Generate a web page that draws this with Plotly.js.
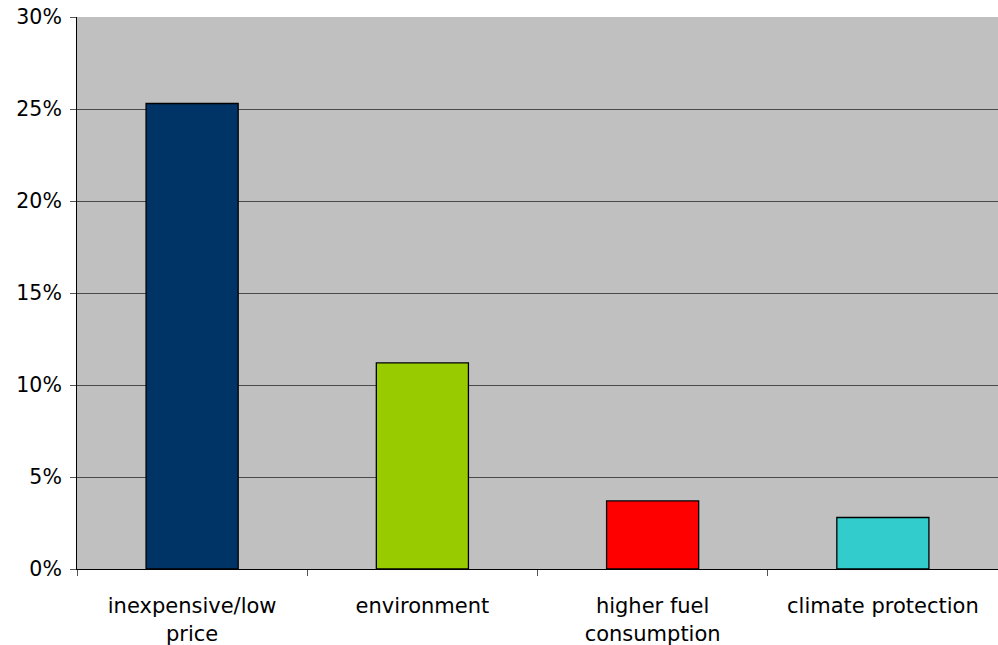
<!DOCTYPE html>
<html>
<head>
<meta charset="utf-8">
<script src="https://cdn.plot.ly/plotly-3.0.1.min.js"></script>
<style>html,body{margin:0;padding:0;background:#fff;}#chart{width:998px;height:645px;}</style>
</head>
<body>
<div id="chart"></div>
<script>
const categories = ["inexpensive/low<br>price", "environment", "higher fuel<br>consumption", "climate protection"];
const values = [25.3, 11.2, 3.7, 2.8];
const barColors = ["#003366", "#99cc00", "#ff0000", "#33cccc"];
const yTickVals = [0, 5, 10, 15, 20, 25, 30];

const trace = {
  type: "bar",
  x: categories,
  y: values,
  marker: { color: barColors, line: { color: "#000000", width: 1.3 } },
  hoverinfo: "none"
};

const layout = {
  width: 998,
  height: 645,
  margin: { l: 77, r: 0, t: 17, b: 76 },
  paper_bgcolor: "#ffffff",
  plot_bgcolor: "#c0c0c0",
  bargap: 0.6,
  showlegend: false,
  font: { family: "DejaVu Sans, Verdana, sans-serif", size: 21, color: "#000000" },
  xaxis: {
    type: "category",
    tickson: "boundaries",
    ticks: "outside",
    ticklen: 6,
    tickcolor: "#555555",
    ticklabelstandoff: 18,
    showline: true,
    linecolor: "#000000",
    linewidth: 1,
    showgrid: false,
    tickfont: { size: 21, color: "#000000" },
    fixedrange: true
  },
  yaxis: {
    range: [0, 30],
    tickvals: yTickVals,
    ticktext: yTickVals.map(v => v + "%"),
    ticks: "outside",
    ticklen: 6,
    tickcolor: "#555555",
    ticklabelstandoff: 4,
    showline: true,
    linecolor: "#000000",
    linewidth: 1,
    showgrid: true,
    gridcolor: "#4a4a4a",
    gridwidth: 1,
    zeroline: false,
    tickfont: { size: 20.5, color: "#000000" },
    fixedrange: true
  }
};

Plotly.newPlot("chart", [trace], layout, { displayModeBar: false, staticPlot: true });
</script>
</body>
</html>
